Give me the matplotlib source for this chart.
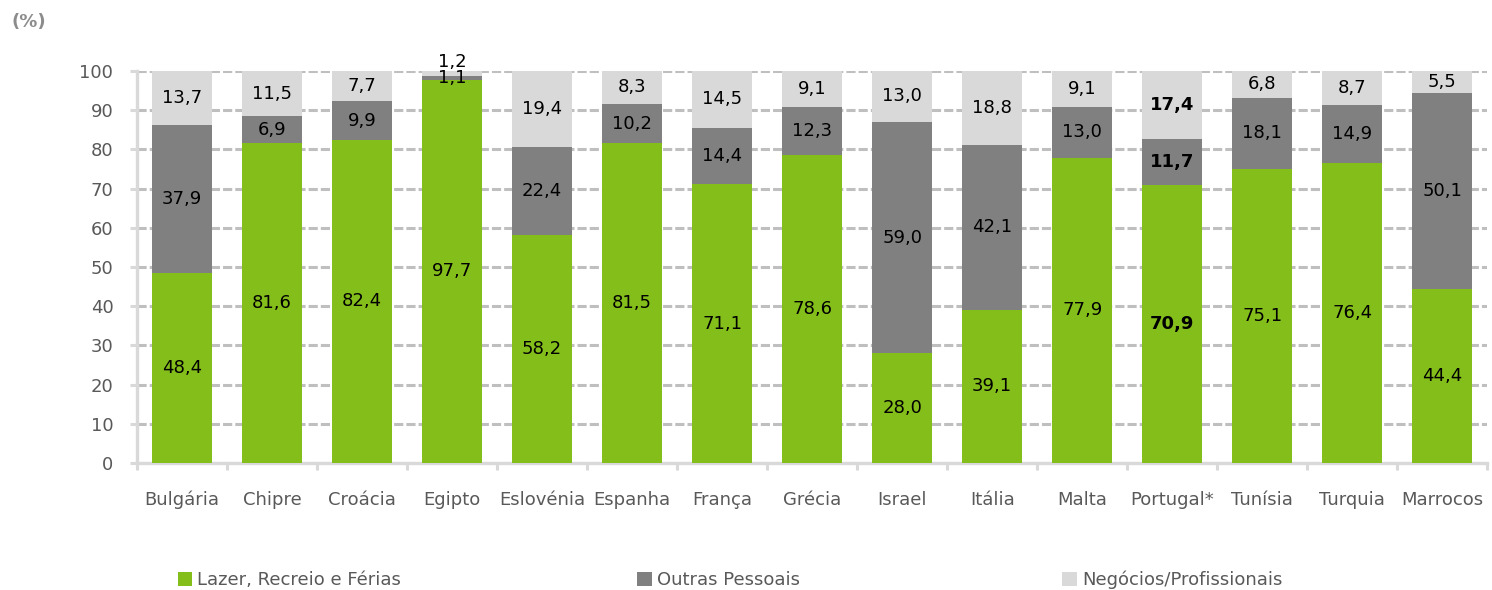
import matplotlib.pyplot as plt
import numpy as np
from matplotlib.patches import Patch

## Data
countries = ["Bulgária", "Chipre", "Croácia", "Egipto", "Eslovénia", "Espanha", "França",
             "Grécia", "Israel", "Itália", "Malta", "Portugal*", "Tunísia", "Turquia", "Marrocos"]
lazer = [48.4, 81.6, 82.4, 97.7, 58.2, 81.5, 71.1, 78.6, 28.0, 39.1, 77.9, 70.9, 75.1, 76.4, 44.4]
outras = [37.9, 6.9, 9.9, 1.1, 22.4, 10.2, 14.4, 12.3, 59.0, 42.1, 13.0, 11.7, 18.1, 14.9, 50.1]
negocios = [13.7, 11.5, 7.7, 1.2, 19.4, 8.3, 14.5, 9.1, 13.0, 18.8, 9.1, 17.4, 6.8, 8.7, 5.5]
series_names = ["Lazer, Recreio e Férias", "Outras Pessoais", "Negócios/Profissionais"]
colors = ["#84be1b", "#808080", "#d9d9d9"]
bold_country = "Portugal*"

plt.rcParams['font.family'] = ['DejaVu Sans']
FS = 13

fig = plt.figure(figsize=(14.92, 5.90), dpi=100)
ax = fig.add_axes([0.0918, 0.2153, 0.905, 0.6644])

x = np.arange(len(countries))
bottom = np.zeros(len(countries))
for k, (vals, col) in enumerate(zip([lazer, outras, negocios], colors)):
    vals = np.array(vals)
    ax.bar(x, vals, bottom=bottom, width=0.667, color=col, zorder=3)
    for i, v in enumerate(vals):
        y = bottom[i] + v / 2
        # tiny top segment (Egipto): label pushed above the bar
        if v < 1.5 and k == 2:
            y = bottom[i] + v + 2.2
        weight = 'bold' if countries[i] == bold_country else 'normal'
        ax.text(x[i], y, f"{v:.1f}".replace('.', ','), ha='center', va='center',
                fontsize=FS, color='black', fontweight=weight, zorder=4, clip_on=False)
    bottom = bottom + vals

ax.set_xlim(-0.5, len(countries) - 0.5)
ax.set_ylim(0, 100)
ax.set_yticks(range(0, 101, 10))
ax.yaxis.grid(True, color='#bfbfbf', linewidth=2.2, linestyle=(0, (3, 1)), zorder=0)
ax.set_axisbelow(True)

ax.set_xticks(x)
ax.set_xticklabels(countries)
ax.set_xticks(np.arange(-0.5, len(countries), 1), minor=True)
ax.tick_params(axis='x', which='major', length=0, pad=20, labelsize=FS, labelcolor='#595959')
ax.tick_params(axis='x', which='minor', length=5, width=2.2, color='#d9d9d9')
ax.tick_params(axis='y', length=5, width=2.2, color='#d9d9d9', labelsize=FS, labelcolor='#595959', pad=12)

for s in ['top', 'right']:
    ax.spines[s].set_visible(False)
for s in ['left', 'bottom']:
    ax.spines[s].set_color('#d9d9d9')
    ax.spines[s].set_linewidth(2.4)

fig.text(0.008, 0.962, "(%)", fontsize=FS, fontweight='bold', color='#8c8c8c', va='center')

# legend entries spread along the bottom
legend_x = [0.119, 0.427, 0.712]
for name, col, lx in zip(series_names, colors, legend_x):
    fig.legend([Patch(facecolor=col, edgecolor='none')], [name], loc='center left',
               bbox_to_anchor=(lx, 0.017), frameon=False, fontsize=FS, labelcolor='#595959',
               handlelength=0.8, handleheight=0.8, handletextpad=0.3,
               borderaxespad=0.0, borderpad=0.0)

fig.savefig("out.png", dpi=100)
